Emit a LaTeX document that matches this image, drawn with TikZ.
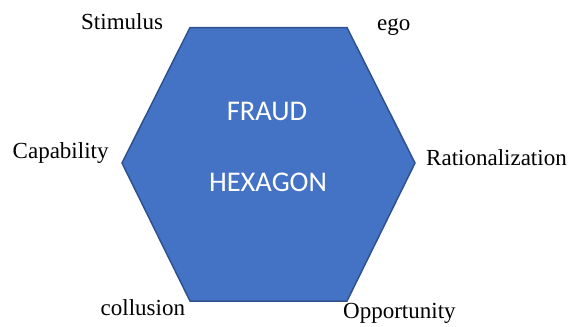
\documentclass[tikz,border=0pt]{standalone}
\usepackage{fontspec}
\setmainfont{Liberation Serif}
\newfontfamily\calfont{Carlito}
\usepackage{tikz}
\usetikzlibrary{positioning}
\usepackage{xcolor}
\definecolor{hexblue}{RGB}{68,114,196}
\definecolor{hexedge}{RGB}{47,82,143}

\begin{document}
\begin{tikzpicture}[x=1pt, y=-1pt,
    hexa/.style={fill=hexblue, draw=hexedge, line width=1.5pt, line join=miter},
    lbl/.style={inner sep=0pt, anchor=base west, font=\fontsize{23}{27}\selectfont},
    title/.style={inner sep=0pt, anchor=base, text=white,
                  font=\calfont\fontsize{28.5}{34}\selectfont}
  ]
  \useasboundingbox (0,0) rectangle (571,327);

  % Hexagon
  \coordinate (TL) at (190,27.5);
  \coordinate (TR) at (347,27.5);
  \coordinate (R) at (415,163);
  \coordinate (BR) at (347,301);
  \coordinate (BL) at (190,301);
  \coordinate (L) at (122,163);
  \draw[hexa] (TL) -- (TR) -- (R) -- (BR) -- (BL) -- (L) -- cycle;

  % Title
  \node[title] (fraud) at (267,120) {FRAUD};
  \node[title] (hexagon) at (268,191.5) {HEXAGON};

  % Corner labels
  \node[lbl] (stimulus) at (81,29.3) {Stimulus};
  \node[lbl] (ego) at (377,30.7) {ego};
  \node[lbl] (capability) at (12.5,158.3) {Capability};
  \node[lbl] (rational) at (426,165) {Rationalization};
  \node[lbl] (collusion) at (100.5,315) {collusion};
  \node[lbl] (opportunity) at (343,318.3) {Opportunity};
\end{tikzpicture}
\end{document}
